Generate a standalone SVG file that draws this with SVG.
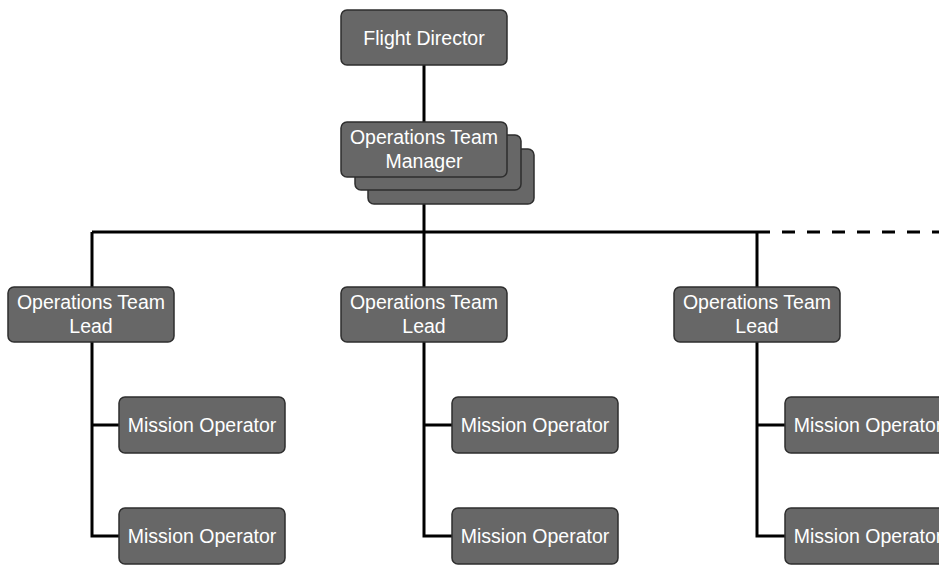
<svg xmlns="http://www.w3.org/2000/svg" width="939" height="566" viewBox="0 0 939 566">
<style>
.box{fill:#676767;stroke:#2e2e2e;stroke-width:1.5}
.t{fill:#ffffff;font-family:"Liberation Sans",Arial,sans-serif;font-size:19.5px;text-anchor:middle;dominant-baseline:central}
.c{fill:none;stroke:#000000;stroke-width:3}
</style>
<rect width="939" height="566" fill="#ffffff"/>
<g id="connectors">
<path class="c" d="M424 65V122M424 176V232M92 232H757M92 232V287M424 232V287M757 232V287"/>
<path class="c" d="M757 232H939" stroke-dasharray="13 12"/>
<path class="c" d="M92 342V536H119M92 425H119M424 342V536H452M424 425H452M757 342V536H785M757 425H785"/>
</g>
<g id="flight-director"><rect class="box" x="341" y="10" width="166" height="55" rx="6"/><text class="t" x="424" y="38">Flight Director</text></g>
<g id="ops-team-manager">
<rect class="box" x="368" y="149" width="166" height="55" rx="6"/>
<rect class="box" x="355" y="135" width="166" height="55" rx="6"/>
<rect class="box" x="341" y="122" width="166" height="55" rx="6"/>
<text class="t" x="424" y="137">Operations Team</text><text class="t" x="424" y="161">Manager</text></g>
<g id="otl-1"><rect class="box" x="8" y="287" width="166" height="55" rx="6"/><text class="t" x="91" y="302">Operations Team</text><text class="t" x="91" y="326">Lead</text></g>
<g id="otl-2"><rect class="box" x="341" y="287" width="166" height="55" rx="6"/><text class="t" x="424" y="302">Operations Team</text><text class="t" x="424" y="326">Lead</text></g>
<g id="otl-3"><rect class="box" x="674" y="287" width="166" height="55" rx="6"/><text class="t" x="757" y="302">Operations Team</text><text class="t" x="757" y="326">Lead</text></g>
<g id="mo-1a"><rect class="box" x="119" y="397" width="166" height="56" rx="6"/><text class="t" x="202" y="425">Mission Operator</text></g>
<g id="mo-1b"><rect class="box" x="119" y="508" width="166" height="56" rx="6"/><text class="t" x="202" y="536">Mission Operator</text></g>
<g id="mo-2a"><rect class="box" x="452" y="397" width="166" height="56" rx="6"/><text class="t" x="535" y="425">Mission Operator</text></g>
<g id="mo-2b"><rect class="box" x="452" y="508" width="166" height="56" rx="6"/><text class="t" x="535" y="536">Mission Operator</text></g>
<g id="mo-3a"><rect class="box" x="785" y="397" width="166" height="56" rx="6"/><text class="t" x="868" y="425">Mission Operator</text></g>
<g id="mo-3b"><rect class="box" x="785" y="508" width="166" height="56" rx="6"/><text class="t" x="868" y="536">Mission Operator</text></g>
</svg>
